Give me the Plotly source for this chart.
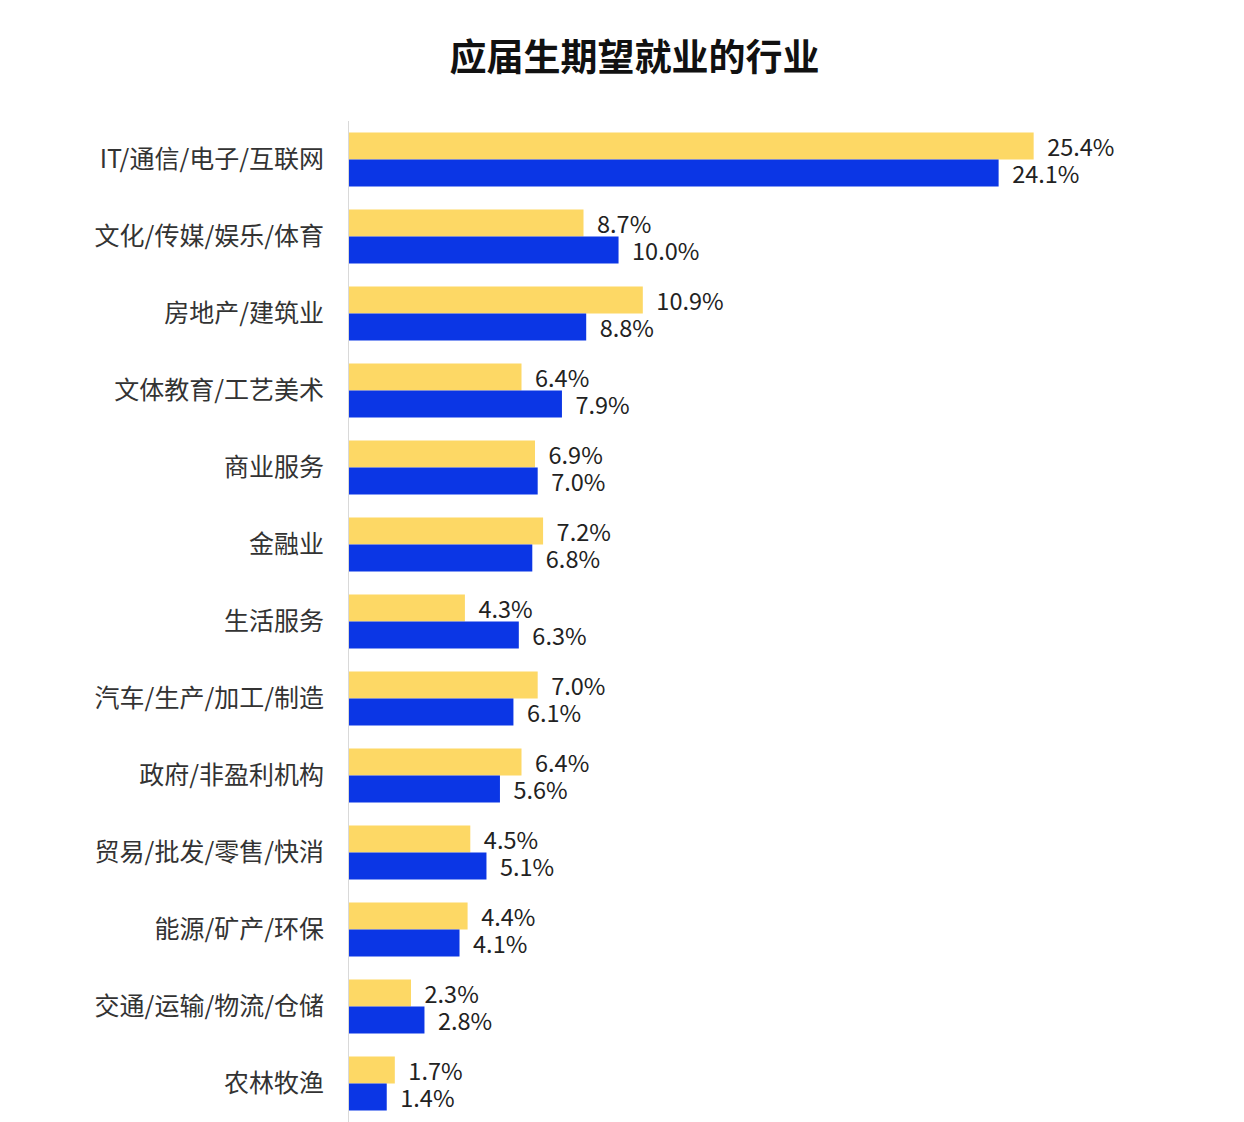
import plotly.graph_objects as go

categories = ["IT/通信/电子/互联网", "文化/传媒/娱乐/体育", "房地产/建筑业", "文体教育/工艺美术",
              "商业服务", "金融业", "生活服务", "汽车/生产/加工/制造", "政府/非盈利机构",
              "贸易/批发/零售/快消", "能源/矿产/环保", "交通/运输/物流/仓储", "农林牧渔"]
series_a = [25.4, 8.7, 10.9, 6.4, 6.9, 7.2, 4.3, 7.0, 6.4, 4.5, 4.4, 2.3, 1.7]
series_b = [24.1, 10.0, 8.8, 7.9, 7.0, 6.8, 6.3, 6.1, 5.6, 5.1, 4.1, 2.8, 1.4]
title_text = "应届生期望就业的行业"

FONT = "Noto Sans CJK SC"
YELLOW = "#FDD865"
BLUE = "#0B36E5"

fig = go.Figure()
for vals, col in [(series_a, YELLOW), (series_b, BLUE)]:
    fig.add_trace(go.Bar(
        y=categories, x=vals, orientation="h",
        marker=dict(color=col, line=dict(width=0)),
        text=[f"  {v:.1f}%" for v in vals],
        textposition="outside", cliponaxis=False, constraintext="none",
        textfont=dict(family=FONT, size=23.5, color="#222222"),
        hoverinfo="skip",
    ))

fig.update_layout(
    width=1244, height=1122,
    margin=dict(l=349, r=54, t=121, b=0),
    paper_bgcolor="white", plot_bgcolor="white",
    barmode="group", bargap=0.3, bargroupgap=0,
    showlegend=False,
    title=dict(text=f"<b>{title_text}</b>", x=0.51, xanchor="center",
               y=1 - 58 / 1122, yref="container", yanchor="middle",
               font=dict(family=FONT, size=37, color="#111111")),
    xaxis=dict(range=[0, 31.2], visible=False, showgrid=False, zeroline=False),
    yaxis=dict(autorange="reversed", categoryorder="array", categoryarray=categories,
               showline=True, linecolor="#d9d9d9", linewidth=1, showgrid=False,
               ticks="", ticklabelstandoff=19,
               tickfont=dict(family=FONT, size=25, color="#333333")),
)

fig.write_html("out.html")
